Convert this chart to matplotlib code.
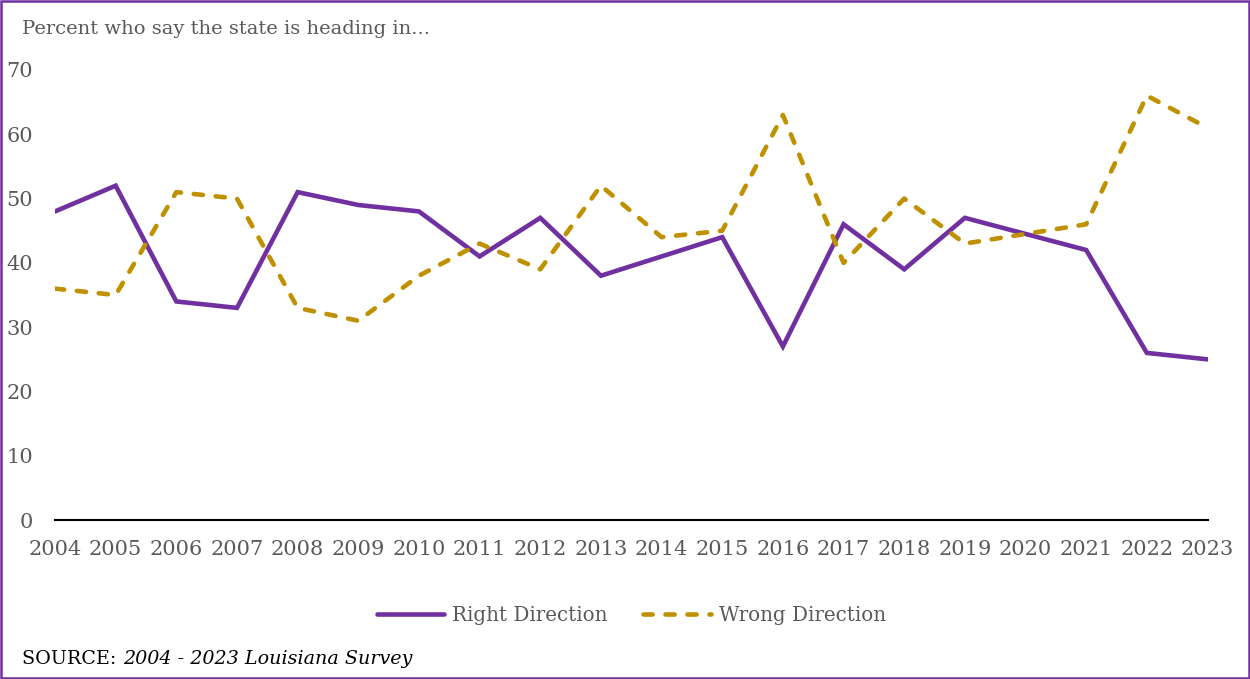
import matplotlib.pyplot as plt
from matplotlib.patches import Rectangle

years = list(range(2004, 2024))
right_direction = [48, 52, 34, 33, 51, 49, 48, 41, 47, 38, 41, 44, 27, 46, 39, 47, 44.5, 42, 26, 25]
wrong_direction = [36, 35, 51, 50, 33, 31, 38, 43, 39, 52, 44, 45, 63, 40, 50, 43, 44.5, 46, 66, 61]
y_ticks = [0, 10, 20, 30, 40, 50, 60, 70]

purple = '#7030A0'
gold = '#BF9000'
gray = '#595959'

plt.rcParams['font.family'] = ['DejaVu Serif']

fig = plt.figure(figsize=(12.5, 6.79), dpi=100)
ax = fig.add_axes([0.044, 0.234, 0.922, 0.663])

ax.plot(years, right_direction, color=purple, lw=3.3, solid_capstyle='round',
        solid_joinstyle='miter', label='Right Direction')
ax.plot(years, wrong_direction, color=gold, lw=3.3, linestyle=(0, (2, 2.8)),
        dash_capstyle='round', label='Wrong Direction')

ax.set_xlim(2004, 2023)
ax.set_ylim(0, 70)
ax.set_xticks(years)
ax.set_xticklabels([str(y) for y in years])
ax.set_yticks(y_ticks)
for s in ['top', 'right', 'left']:
    ax.spines[s].set_visible(False)
ax.spines['bottom'].set_linewidth(1.5)
ax.spines['bottom'].set_color('black')
ax.tick_params(axis='both', length=0, labelsize=15, labelcolor=gray)
ax.tick_params(axis='x', pad=14)
ax.tick_params(axis='y', pad=16)

fig.text(0.018, 0.958, 'Percent who say the state is heading in...', fontsize=14,
         color=gray, va='center')

ax.legend(loc='center', bbox_to_anchor=(0.5, -0.212), ncol=2, frameon=False,
          fontsize=14.3, labelcolor=gray, handlelength=3.4, handletextpad=0.4,
          columnspacing=1.8)

t = fig.text(0.018, 0.029, 'SOURCE: ', fontsize=13.8, color='black', va='center')
fig.canvas.draw()
bb = t.get_window_extent()
fig.text(bb.x1 / fig.bbox.width, 0.029, '2004 - 2023 Louisiana Survey', fontsize=13.8,
         color='black', style='italic', va='center')

fig.patches.append(Rectangle((0.001, 0.002), 0.998, 0.996, transform=fig.transFigure,
                             fill=False, edgecolor=purple, lw=1.8))

fig.savefig('out.png', dpi=100)
